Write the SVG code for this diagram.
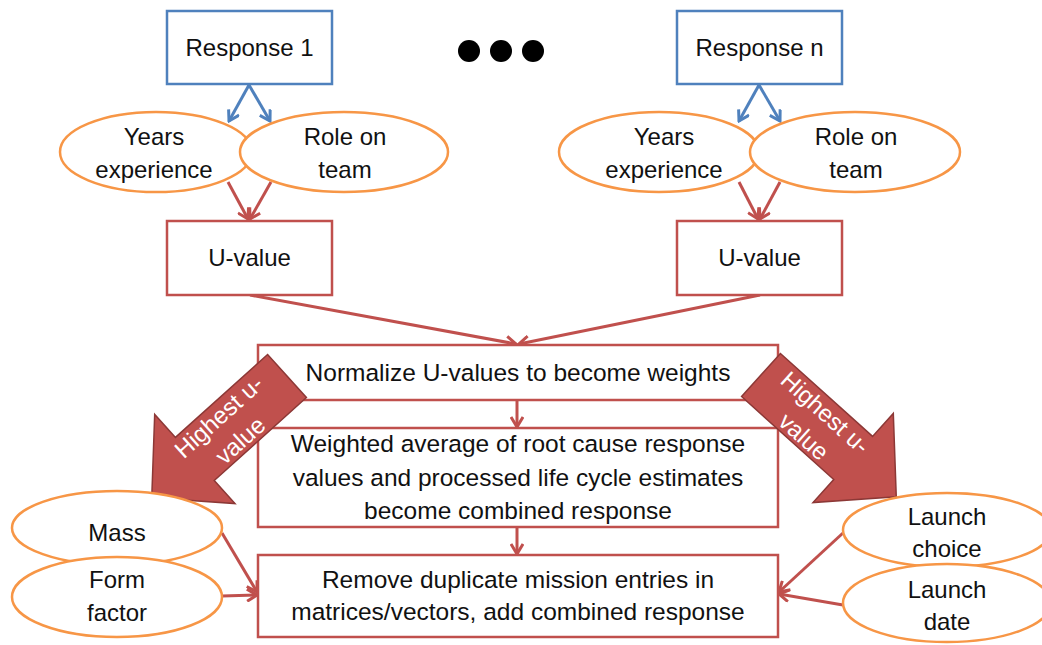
<svg xmlns="http://www.w3.org/2000/svg" width="1042" height="645" viewBox="0 0 1042 645">
  <defs>
    <style>
      .txt { font-family: "Liberation Sans", Arial, sans-serif; font-size: 24px; fill: #111; text-anchor: middle; }
      .big { font-size: 24.5px; }
      .box-blue { fill: #fff; stroke: #4F81BD; stroke-width: 2.5; }
      .box-red { fill: #fff; stroke: #C0504D; stroke-width: 2.5; }
      .oval { fill: #fff; stroke: #F79646; stroke-width: 2.5; }
      .con-blue { fill: none; stroke: #4F81BD; stroke-width: 3; marker-end: url(#headBlue); }
      .con-red { fill: none; stroke: #C0504D; stroke-width: 3; marker-end: url(#headRed); }
      .fat { fill: #C0504D; stroke: #8C3836; stroke-width: 1.5; stroke-linejoin: miter; }
      .fat-txt { font-family: "Liberation Sans", Arial, sans-serif; font-size: 24px; fill: #fff; text-anchor: middle; }
      .dot { fill: #000; }
    </style>
    <marker id="headBlue" viewBox="0 0 14 14" refX="12" refY="7" markerWidth="14" markerHeight="14" markerUnits="userSpaceOnUse" orient="auto">
      <path d="M2,1 L12,7 L2,13" fill="none" stroke="#4F81BD" stroke-width="3"/>
    </marker>
    <marker id="headRed" viewBox="0 0 14 14" refX="12" refY="7" markerWidth="14" markerHeight="14" markerUnits="userSpaceOnUse" orient="auto">
      <path d="M2,1 L12,7 L2,13" fill="none" stroke="#C0504D" stroke-width="3"/>
    </marker>
    <path id="fatArrow" d="M0,-29 L124,-29 L124,-60 L182,0 L124,60 L124,29 L0,29 Z"/>
  </defs>

  <!-- top response boxes -->
  <g id="response1">
    <rect class="box-blue" x="167" y="11" width="165" height="73"/>
    <text class="txt" x="249.5" y="56">Response 1</text>
  </g>
  <g id="ellipsis">
    <circle class="dot" cx="469" cy="51" r="11"/>
    <circle class="dot" cx="501" cy="51" r="11"/>
    <circle class="dot" cx="533" cy="51" r="11"/>
  </g>
  <g id="responseN">
    <rect class="box-blue" x="677" y="11" width="165" height="73"/>
    <text class="txt" x="759.5" y="56">Response n</text>
  </g>

  <!-- connectors -->
  <g id="connectors">
    <line class="con-blue" x1="249" y1="85" x2="229" y2="121"/>
    <line class="con-blue" x1="249" y1="85" x2="270" y2="121"/>
    <line class="con-blue" x1="759" y1="85" x2="739" y2="121"/>
    <line class="con-blue" x1="759" y1="85" x2="780" y2="121"/>
    <line class="con-red" x1="228" y1="182" x2="248" y2="219"/>
    <line class="con-red" x1="271" y1="182" x2="250" y2="219"/>
    <line class="con-red" x1="739" y1="182" x2="758" y2="219"/>
    <line class="con-red" x1="780" y1="182" x2="760" y2="219"/>
    <line class="con-red" x1="250" y1="295" x2="516" y2="344"/>
    <line class="con-red" x1="760" y1="295" x2="519" y2="344"/>
    <line class="con-red" x1="517" y1="400" x2="517" y2="427"/>
    <line class="con-red" x1="517" y1="527" x2="517" y2="554"/>
    <line class="con-red" x1="222" y1="533" x2="257" y2="592"/>
    <line class="con-red" x1="222" y1="596" x2="257" y2="595"/>
    <line class="con-red" x1="843" y1="533" x2="779" y2="592"/>
    <line class="con-red" x1="843" y1="605" x2="779" y2="594"/>
  </g>

  <!-- respondent attributes -->
  <g id="years1">
    <ellipse class="oval" cx="156" cy="152" rx="96" ry="40"/>
    <text class="txt" x="154" y="145">Years</text>
    <text class="txt" x="154" y="178">experience</text>
  </g>
  <g id="role1">
    <ellipse class="oval" cx="344" cy="152" rx="104" ry="40"/>
    <text class="txt" x="345" y="145">Role on</text>
    <text class="txt" x="345" y="178">team</text>
  </g>
  <g id="yearsN">
    <ellipse class="oval" cx="659" cy="152" rx="100" ry="40"/>
    <text class="txt" x="664" y="145">Years</text>
    <text class="txt" x="664" y="178">experience</text>
  </g>
  <g id="roleN">
    <ellipse class="oval" cx="855" cy="152" rx="105" ry="40"/>
    <text class="txt" x="856" y="145">Role on</text>
    <text class="txt" x="856" y="178">team</text>
  </g>

  <!-- u-values -->
  <g id="uvalue1">
    <rect class="box-red" x="167" y="221" width="165" height="74"/>
    <text class="txt" x="249.5" y="266">U-value</text>
  </g>
  <g id="uvalueN">
    <rect class="box-red" x="677" y="221" width="165" height="74"/>
    <text class="txt" x="759.5" y="266">U-value</text>
  </g>

  <!-- processing chain -->
  <g id="normalize">
    <rect class="box-red" x="258" y="345" width="520" height="55"/>
    <text class="txt big" x="518" y="381">Normalize U-values to become weights</text>
  </g>
  <g id="weighted">
    <rect class="box-red" x="258" y="428" width="520" height="99"/>
    <text class="txt big" x="518" y="452">Weighted average of root cause response</text>
    <text class="txt big" x="518" y="486">values and processed life cycle estimates</text>
    <text class="txt big" x="518" y="519">become combined response</text>
  </g>
  <g id="remove">
    <rect class="box-red" x="258" y="555" width="520" height="82"/>
    <text class="txt big" x="518" y="588">Remove duplicate mission entries in</text>
    <text class="txt big" x="518" y="620">matrices/vectors, add combined response</text>
  </g>

  <!-- highest u-value selectors -->
  <g id="highestLeft">
    <use href="#fatArrow" class="fat" transform="translate(287,376) rotate(138)"/>
    <g transform="translate(229,428) rotate(-42)">
      <text class="fat-txt" x="0" y="-7">Highest u-</text>
      <text class="fat-txt" x="0" y="25">value</text>
    </g>
  </g>
  <g id="highestRight">
    <use href="#fatArrow" class="fat" transform="translate(761,375) rotate(42)"/>
    <g transform="translate(815,424) rotate(42)">
      <text class="fat-txt" x="0" y="-7">Highest u-</text>
      <text class="fat-txt" x="0" y="25">value</text>
    </g>
  </g>

  <!-- mission attributes -->
  <g id="mass">
    <ellipse class="oval" cx="117" cy="528" rx="105" ry="37"/>
    <text class="txt" x="117" y="541">Mass</text>
  </g>
  <g id="formFactor">
    <ellipse class="oval" cx="117" cy="597" rx="105" ry="40"/>
    <text class="txt" x="117" y="588">Form</text>
    <text class="txt" x="117" y="621">factor</text>
  </g>
  <g id="launchChoice">
    <ellipse class="oval" cx="947" cy="530" rx="104" ry="37"/>
    <text class="txt" x="947" y="525">Launch</text>
    <text class="txt" x="947" y="557">choice</text>
  </g>
  <g id="launchDate">
    <ellipse class="oval" cx="947" cy="603" rx="104" ry="39"/>
    <text class="txt" x="947" y="598">Launch</text>
    <text class="txt" x="947" y="630">date</text>
  </g>
</svg>
